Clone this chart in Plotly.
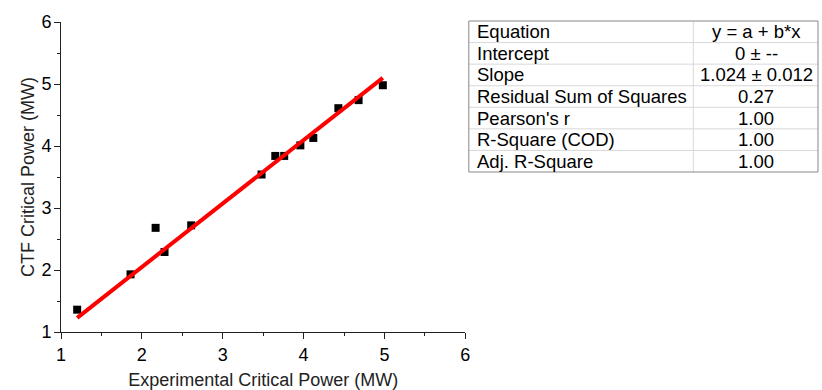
import plotly.graph_objects as go

exp_power = [1.20, 1.86, 2.17, 2.28, 2.61, 3.48, 3.65, 3.76, 3.96, 4.12, 4.43, 4.68, 4.98]
ctf_power = [1.36, 1.93, 2.68, 2.29, 2.72, 3.54, 3.84, 3.84, 4.01, 4.13, 4.61, 4.74, 4.98]
slope = 1.024
intercept = 0.0
fit_x = [min(exp_power), max(exp_power)]
fit_y = [intercept + slope * v for v in fit_x]

table_labels = ["Equation", "Intercept", "Slope", "Residual Sum of Squares",
                "Pearson's r", "R-Square (COD)", "Adj. R-Square"]
table_values = ["y = a + b*x", "0 ± --", "1.024 ± 0.012", "0.27", "1.00", "1.00", "1.00"]

W, H = 822, 390
ML, MR, MT, MB = 61, 0, 22, 58
PW, PH = W - ML - MR, H - MT - MB

def px(x):
    return (x - ML) / PW

def py(y):
    return (H - MB - y) / PH

font = "Liberation Sans, Arial, sans-serif"

fig = go.Figure()
fig.add_trace(go.Scatter(x=exp_power, y=ctf_power, mode="markers",
                         marker=dict(symbol="square", size=8, color="black"),
                         cliponaxis=False, showlegend=False))
fig.add_trace(go.Scatter(x=fit_x, y=fit_y, mode="lines",
                         line=dict(color="#ff0000", width=4),
                         cliponaxis=False, showlegend=False))

axis_common = dict(range=[1, 6], dtick=1, ticks="outside", ticklen=6, tickwidth=1,
                   tickcolor="#222", showline=True, linewidth=1, linecolor="#222",
                   showgrid=False, zeroline=False, mirror=False,
                   tickfont=dict(family=font, size=18, color="black"),
                   minor=dict(dtick=0.5, ticks="outside", ticklen=3, tickcolor="#222"))

fig.update_layout(
    width=W, height=H, margin=dict(l=ML, r=MR, t=MT, b=MB),
    plot_bgcolor="white", paper_bgcolor="white",
    xaxis=dict(domain=[0, px(468)],
               title=dict(text="Experimental Critical Power (MW)",
                          font=dict(family=font, size=18, color="#222"), standoff=10),
               **axis_common),
    yaxis=dict(title=dict(text="CTF Critical Power (MW)",
                          font=dict(family=font, size=18, color="#222"), standoff=2),
               ticklabelstandoff=-1,
               **axis_common),
)

# table
x0, x1, xm = 471.5, 823, 697.5
y0, y1 = 21, 172
n = len(table_labels)
rh = (y1 - y0) / n
shapes = []
for i in range(1, n):
    yy = y0 + i * rh
    shapes.append(dict(type="line", xref="paper", yref="paper",
                       x0=px(x0), x1=px(x1), y0=py(yy), y1=py(yy),
                       line=dict(color="#d8d8d8", width=1)))
shapes.append(dict(type="line", xref="paper", yref="paper",
                   x0=px(xm), x1=px(xm), y0=py(y0), y1=py(y1),
                   line=dict(color="#d8d8d8", width=1)))
shapes.append(dict(type="rect", xref="paper", yref="paper",
                   x0=px(x0), x1=px(x1), y0=py(y0), y1=py(y1),
                   line=dict(color="#888888", width=1)))
annots = []
for i, (lab, val) in enumerate(zip(table_labels, table_values)):
    yc = y0 + (i + 0.5) * rh
    annots.append(dict(xref="paper", yref="paper", x=px(x0 + 6), y=py(yc),
                       text=lab, showarrow=False, xanchor="left", yanchor="middle",
                       font=dict(family=font, size=18.5, color="black")))
    annots.append(dict(xref="paper", yref="paper", x=px(761), y=py(yc),
                       text=val, showarrow=False, xanchor="center", yanchor="middle",
                       font=dict(family=font, size=18.5, color="black")))
fig.update_layout(shapes=shapes, annotations=annots)

fig.write_html("out.html")
